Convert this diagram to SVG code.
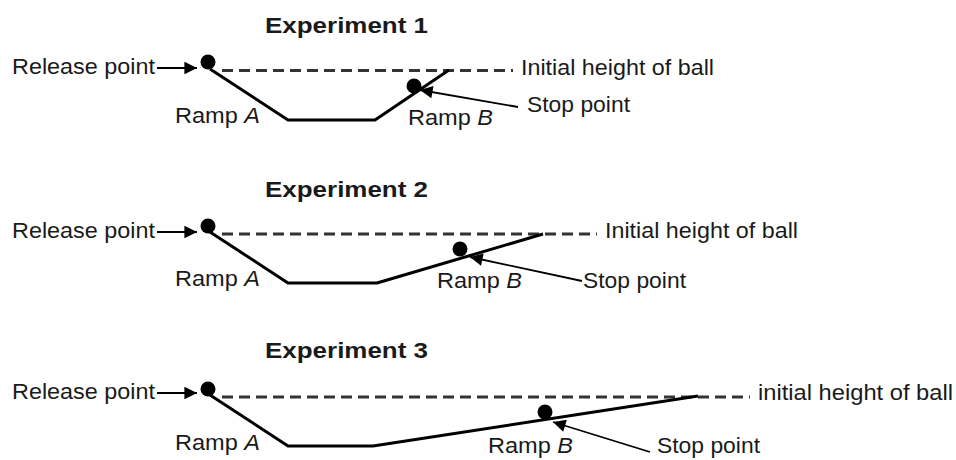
<svg xmlns="http://www.w3.org/2000/svg" width="956" height="460" viewBox="0 0 956 460">
<style>
text{font-family:"Liberation Sans",Arial,sans-serif;font-size:22.5px;fill:#1a1a1a}
.title{font-weight:bold}
.ramp{fill:none;stroke:#000;stroke-width:3;stroke-linejoin:round}
.dash{stroke:#333;stroke-width:2.8;stroke-dasharray:11 6;fill:none}
.ptr{stroke:#000;stroke-width:1.8;fill:none}
.ball{fill:#000}
</style>
<defs>
<marker id="ah" viewBox="0 0 10 10" refX="10" refY="5" markerWidth="9" markerHeight="7" markerUnits="strokeWidth" orient="auto">
<path d="M0,0 L10,5 L0,10 Z" fill="#000"/>
</marker>
</defs>
<rect width="956" height="460" fill="#fff"/>

<g id="experiment1">
<text class="title" x="265" y="33" textLength="163" lengthAdjust="spacingAndGlyphs">Experiment 1</text>
<text x="12" y="74" textLength="143" lengthAdjust="spacingAndGlyphs">Release point</text>
<text x="521" y="75" textLength="193" lengthAdjust="spacingAndGlyphs">Initial height of ball</text>
<text x="175" y="123" textLength="85" lengthAdjust="spacingAndGlyphs">Ramp <tspan font-style="italic">A</tspan></text>
<text x="408" y="125" textLength="85" lengthAdjust="spacingAndGlyphs">Ramp <tspan font-style="italic">B</tspan></text>
<text x="527" y="112" textLength="103" lengthAdjust="spacingAndGlyphs">Stop point</text>
<line class="dash" x1="222" y1="70.5" x2="513" y2="70.5"/>
<path class="ramp" d="M210 69 L288 120 L375 120 L449 70"/>
<circle class="ball" cx="208" cy="62" r="7.5"/>
<circle class="ball" cx="414" cy="86" r="7.5"/>
</g>

<g id="experiment2">
<text class="title" x="265" y="197" textLength="163" lengthAdjust="spacingAndGlyphs">Experiment 2</text>
<text x="12" y="238" textLength="143" lengthAdjust="spacingAndGlyphs">Release point</text>
<text x="605" y="238" textLength="193" lengthAdjust="spacingAndGlyphs">Initial height of ball</text>
<text x="175" y="286" textLength="85" lengthAdjust="spacingAndGlyphs">Ramp <tspan font-style="italic">A</tspan></text>
<text x="437" y="288" textLength="85" lengthAdjust="spacingAndGlyphs">Ramp <tspan font-style="italic">B</tspan></text>
<text x="583" y="288" textLength="103" lengthAdjust="spacingAndGlyphs">Stop point</text>
<line class="dash" x1="222" y1="234" x2="597" y2="234"/>
<path class="ramp" d="M210 232 L288 283 L377 283 L543 234"/>
<circle class="ball" cx="208" cy="226" r="7.5"/>
<circle class="ball" cx="460" cy="249" r="7.5"/>
</g>

<g id="experiment3">
<text class="title" x="265" y="358" textLength="163" lengthAdjust="spacingAndGlyphs">Experiment 3</text>
<text x="12" y="399" textLength="143" lengthAdjust="spacingAndGlyphs">Release point</text>
<text x="758" y="400" textLength="195" lengthAdjust="spacingAndGlyphs">initial height of ball</text>
<text x="175" y="450" textLength="85" lengthAdjust="spacingAndGlyphs">Ramp <tspan font-style="italic">A</tspan></text>
<text x="488" y="453" textLength="85" lengthAdjust="spacingAndGlyphs">Ramp <tspan font-style="italic">B</tspan></text>
<text x="657" y="453" textLength="103" lengthAdjust="spacingAndGlyphs">Stop point</text>
<line class="dash" x1="222" y1="397" x2="750" y2="397"/>
<path class="ramp" d="M210 395 L288 446 L373 446 L698 396"/>
<circle class="ball" cx="208" cy="389" r="7.5"/>
<circle class="ball" cx="545" cy="412" r="7.5"/>
</g>

<g id="connectors">
<line class="ptr" x1="157" y1="68" x2="197" y2="68" marker-end="url(#ah)"/>
<line class="ptr" x1="518" y1="107" x2="420" y2="90" marker-end="url(#ah)"/>
<line class="ptr" x1="157" y1="232" x2="197" y2="232" marker-end="url(#ah)"/>
<line class="ptr" x1="582" y1="281" x2="470" y2="257" marker-end="url(#ah)"/>
<line class="ptr" x1="157" y1="393" x2="197" y2="393" marker-end="url(#ah)"/>
<line class="ptr" x1="650" y1="452" x2="553" y2="422" marker-end="url(#ah)"/>
</g>
</svg>
